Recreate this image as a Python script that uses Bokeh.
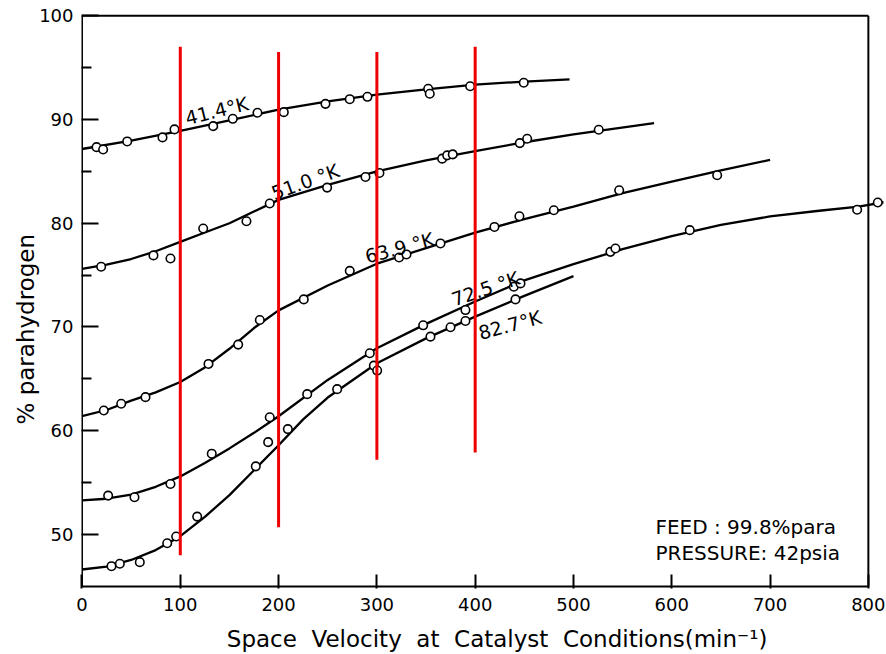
import math
from bokeh.plotting import figure
from bokeh.models import Range1d, FixedTicker, Label
from bokeh.embed import file_html
from bokeh.resources import INLINE
from bokeh.core.properties import value

# ---------------- data ----------------
x_ticks = [0, 100, 200, 300, 400, 500, 600, 700, 800]
y_ticks = [50, 60, 70, 80, 90, 100]
y_minor = [55, 65, 75, 85, 95]
y_min = 45

labels = ["41.4°K", "51.0 °K", "63.9 °K", "72.5 °K", "82.7°K"]

# measured points
p414_x = [14.8, 21.5, 46.0, 81.9, 94.1, 133.5, 153.4, 178.5, 205.3, 247.7, 272.4, 290.4, 352.2, 353.8, 394.9, 449.4]
p414_y = [87.33, 87.1, 87.88, 88.27, 89.04, 89.35, 90.06, 90.64, 90.70, 91.5, 91.95, 92.18, 92.95, 92.47, 93.2, 93.53]

p510_x = [19.5, 72.7, 90.0, 123.3, 167.3, 191.0, 249.4, 288.4, 302.6, 366.4, 371.5, 377.2, 445.4, 452.9, 525.7]
p510_y = [75.8, 76.9, 76.6, 79.49, 80.19, 81.9, 83.43, 84.45, 84.84, 86.22, 86.54, 86.63, 87.72, 88.14, 89.01]

p639_x = [22.2, 39.9, 64.6, 128.7, 158.9, 180.9, 225.6, 272.4, 322.6, 330.1, 364.7, 419.6, 445.0, 480.0, 546.5, 646.2]
p639_y = [61.95, 62.6, 63.24, 66.44, 68.3, 70.67, 72.66, 75.41, 76.7, 76.99, 78.05, 79.64, 80.67, 81.25, 83.17, 84.62]

p725_x = [26.6, 53.4, 90.0, 132.0, 191.0, 229.1, 292.8, 347.1, 390.1, 439.3, 446.1, 537.6, 542.7, 618.3, 788.6, 809.6]
p725_y = [53.75, 53.59, 54.87, 57.79, 61.3, 63.53, 67.47, 70.16, 71.63, 73.88, 74.2, 77.24, 77.56, 79.33, 81.3, 81.99]

p827_x = [30.0, 38.5, 58.8, 86.7, 95.8, 117.2, 176.8, 189.4, 209.4, 259.6, 296.9, 300.3, 354.5, 374.9, 390.1, 441.0]
p827_y = [46.95, 47.18, 47.34, 49.16, 49.81, 51.73, 56.57, 58.9, 60.16, 64.01, 66.28, 65.8, 69.07, 69.97, 70.58, 72.66]

# hand-drawn smooth curves
c414_x = [0, 50, 100, 150, 200, 250, 300, 350, 400, 450, 496]
c414_y = [87.15, 87.95, 88.9, 89.9, 90.95, 91.75, 92.4, 92.9, 93.35, 93.65, 93.85]

c510_x = [0, 25, 50, 75, 100, 125, 150, 200, 250, 300, 350, 400, 450, 500, 582]
c510_y = [75.6, 76.0, 76.55, 77.3, 78.2, 79.1, 80.0, 82.25, 83.7, 85.0, 86.05, 86.95, 87.8, 88.55, 89.65]

c639_x = [0, 25, 50, 75, 100, 125, 150, 175, 200, 250, 300, 350, 400, 450, 500, 550, 600, 650, 700]
c639_y = [61.4, 62.0, 62.9, 63.7, 64.7, 66.1, 67.9, 69.9, 71.6, 74.0, 76.1, 77.6, 79.1, 80.4, 81.6, 82.9, 84.0, 85.1, 86.1]

c725_x = [0, 25, 50, 75, 100, 125, 150, 175, 200, 250, 300, 350, 400, 450, 500, 550, 600, 650, 700, 750, 790, 818]
c725_y = [53.3, 53.45, 53.85, 54.6, 55.6, 56.9, 58.3, 59.8, 61.4, 64.9, 67.95, 70.3, 72.45, 74.5, 76.05, 77.5, 78.75, 79.85, 80.65, 81.2, 81.6, 82.05]

c827_x = [0, 25, 50, 75, 100, 125, 150, 175, 200, 225, 250, 300, 350, 400, 450, 500]
c827_y = [46.63, 46.9, 47.55, 48.5, 49.84, 51.7, 53.8, 56.2, 58.6, 61.1, 63.2, 66.5, 68.9, 71.0, 73.0, 74.9]

# red marker lines
red_x = [100, 200, 300, 400]
red_y0 = [48.0, 50.7, 57.2, 57.9]
red_y1 = [97.0, 96.5, 96.5, 97.0]

# ---------------- figure ----------------
FONT = "DejaVu Sans"
NB = "\u00a0"
p = figure(width=886, height=654,
           x_range=Range1d(-0.5, 815.4), y_range=Range1d(44.8, 100.4),
           min_border_left=81, min_border_right=3, min_border_top=11, min_border_bottom=65,
           output_backend="svg", toolbar_location=None)
p.outline_line_color = None
p.xgrid.visible = False
p.ygrid.visible = False
p.background_fill_color = "white"
p.border_fill_color = "white"

for ax in (p.xaxis, p.yaxis):
    ax.axis_line_color = None
    ax.major_tick_out = 0
    ax.major_tick_line_width = 2
    ax.major_tick_line_color = "black"
    ax.major_label_text_font = FONT
    ax.major_label_text_font_size = "18px"
    ax.major_label_text_color = "black"
    ax.axis_label_text_font = FONT
    ax.axis_label_text_font_style = "normal"
    ax.axis_label_text_color = "black"

p.xaxis.ticker = FixedTicker(ticks=x_ticks)
p.xaxis.major_tick_in = 14
p.xaxis.minor_tick_line_color = None
p.xaxis.major_label_standoff = 9
p.xaxis.axis_label = (NB * 4 + "Space" + NB + " Velocity" + NB + " at" + NB + " Catalyst" + NB
                      + " Conditions(min\u207b\u00b9)")
p.xaxis.axis_label_text_font_size = "23px"
p.xaxis.axis_label_standoff = 12

p.yaxis.ticker = FixedTicker(ticks=y_ticks, minor_ticks=y_minor)
p.yaxis.major_tick_in = 17
p.yaxis.minor_tick_in = 10
p.yaxis.minor_tick_out = 0
p.yaxis.minor_tick_line_width = 2
p.yaxis.minor_tick_line_color = "black"
p.yaxis.major_label_standoff = 8
p.yaxis.axis_label = "% parahydrogen" + NB * 8
p.yaxis.axis_label_text_font_size = "23px"
p.yaxis.axis_label_standoff = -3

# frame
xa, xb = x_ticks[0], x_ticks[-1]
ya, yb = y_min, y_ticks[-1]
p.segment(x0=[xa, xa, xa, xb], y0=[ya, ya, yb, ya], x1=[xb, xa, xb, xb], y1=[ya, yb, yb, yb],
          line_color="black", line_width=2)

# curves and points
curves = [(c414_x, c414_y), (c510_x, c510_y), (c639_x, c639_y), (c725_x, c725_y), (c827_x, c827_y)]
points = [(p414_x, p414_y), (p510_x, p510_y), (p639_x, p639_y), (p725_x, p725_y), (p827_x, p827_y)]
for cx, cy in curves:
    p.line(cx, cy, line_color="black", line_width=2.3)
for px, py in points:
    p.scatter(px, py, marker="circle", size=8.5, fill_color="white", line_color="black", line_width=1.6)

# curve labels
lab_x = [105.3, 193.5, 288.4, 376.6, 403.7]
lab_y = [90.1, 82.85, 76.76, 72.6, 69.4]
lab_a = [14, 20, 15, 19, 15]
p.text(x=lab_x, y=lab_y, text=labels, angle=[math.radians(a) for a in lab_a],
       text_font=value(FONT), text_font_size="19px", text_color="black",
       text_align="left", text_baseline="alphabetic")

# red lines
p.segment(x0=red_x, y0=red_y0, x1=red_x, y1=red_y1, line_color="#ee0000", line_width=3)

# annotation
p.add_layout(Label(x=583.4, y=50.74, text="FEED : 99.8%para", text_font=FONT,
                   text_font_size="20px", text_color="black", text_baseline="alphabetic"))
p.add_layout(Label(x=583.4, y=48.24, text="PRESSURE: 42psia", text_font=FONT,
                   text_font_size="20px", text_color="black", text_baseline="alphabetic"))

open("out.html", "w").write(file_html(p, INLINE))
